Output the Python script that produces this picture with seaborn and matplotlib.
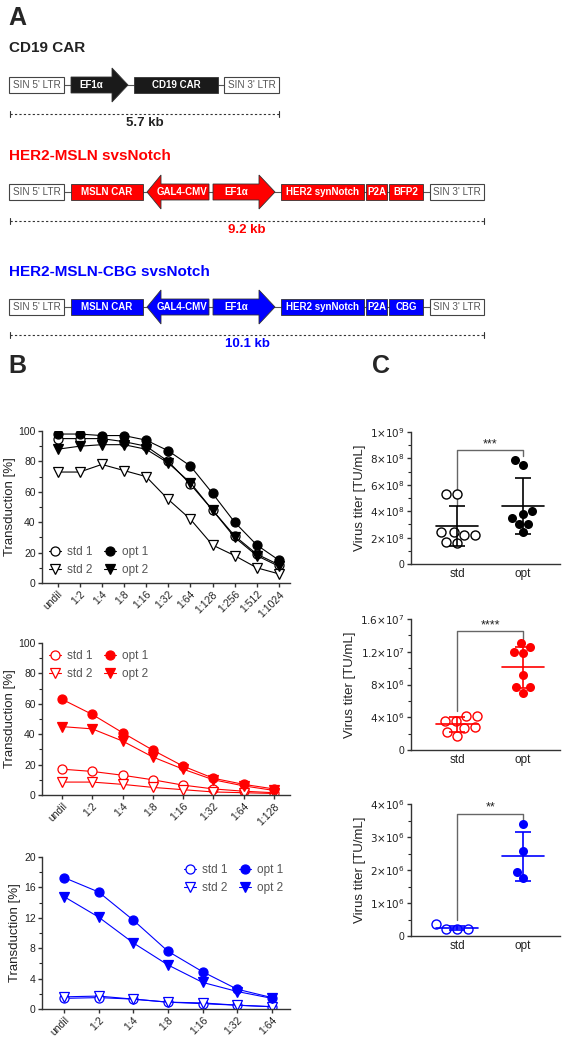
import matplotlib
matplotlib.use('Agg')
import matplotlib.pyplot as plt
import seaborn as sns
import numpy as np
import pandas as pd
from matplotlib.patches import Polygon, Rectangle
from matplotlib.ticker import FixedLocator, FixedFormatter, AutoMinorLocator

# ---------------- data ----------------
dil_top = ['undil', '1:2', '1:4', '1:8', '1:16', '1:32', '1:64', '1:128', '1:256', '1:512', '1:1024']
top_std1 = [95, 95, 95, 93, 90, 80, 65, 48, 31, 19, 12]
top_std2 = [73, 73, 78, 74, 70, 55, 42, 25, 18, 10, 6]
top_opt1 = [98, 98, 97, 97, 94, 87, 77, 59, 40, 25, 15]
top_opt2 = [88, 90, 91, 91, 88, 79, 66, 48, 30, 18, 11]

dil_mid = ['undil', '1:2', '1:4', '1:8', '1:16', '1:32', '1:64', '1:128']
mid_std1 = [17, 15.5, 13, 10, 6.5, 4, 2.5, 1.5]
mid_std2 = [8.5, 8.5, 7, 5, 3.5, 2, 1.5, 1]
mid_opt1 = [63, 53, 41, 29.5, 19, 11, 7, 4]
mid_opt2 = [45, 43.5, 35.5, 25, 17, 10, 6, 3]

dil_bot = ['undil', '1:2', '1:4', '1:8', '1:16', '1:32', '1:64']
bot_std1 = [1.4, 1.5, 1.3, 0.9, 0.7, 0.5, 0.3]
bot_std2 = [1.6, 1.7, 1.3, 0.9, 0.8, 0.5, 0.3]
bot_opt1 = [17.3, 15.4, 11.7, 7.6, 4.9, 2.6, 1.5]
bot_opt2 = [14.8, 12.1, 8.7, 5.8, 3.5, 2.3, 1.4]

titer_top_std = [5.3e8, 5.3e8, 2.2e8, 2.4e8, 1.6e8, 2.2e8, 1.7e8, 2.4e8]
titer_top_opt = [7.9e8, 7.5e8, 3.8e8, 4.0e8, 3.0e8, 3.5e8, 2.4e8, 3.0e8]
titer_mid_std = [4.2e6, 2.7e6, 3.6e6, 3.6e6, 1.7e6, 2.2e6, 4.2e6, 2.8e6]
titer_mid_opt = [12.6e6, 13.1e6, 11.8e6, 12.0e6, 9.1e6, 7.7e6, 7.0e6, 7.7e6]
titer_bot_std = [0.22e6, 0.35e6, 0.2e6, 0.22e6]
titer_bot_opt = [3.38e6, 2.58e6, 1.95e6, 1.75e6]

BLACK, RED, BLUE = '#000000', '#ff0000', '#0000ff'

# construct elements: (label, x0, x1, kind)  kind: box / ltr / right / left
construct_cd19 = [('SIN 5\' LTR', 9, 64, 'ltr'), ('EF1α', 71, 128, 'right'),
                  ('CD19 CAR', 134, 218, 'box'), ('SIN 3\' LTR', 224, 279, 'ltr')]
construct_svs = [('SIN 5\' LTR', 9, 64, 'ltr'), ('MSLN CAR', 71, 143, 'box'),
                 ('GAL4-CMV', 147, 209, 'left'), ('EF1α', 213, 275, 'right'),
                 ('HER2 synNotch', 281, 364, 'box'), ('P2A', 366, 387, 'box'),
                 ('BFP2', 389, 423, 'box'), ('SIN 3\' LTR', 430, 484, 'ltr')]
construct_cbg = [(l if l != 'BFP2' else 'CBG', a, b, k) for l, a, b, k in construct_svs]

# ---------------- figure ----------------
sns.set_style('ticks')
plt.rcParams['font.family'] = ['Liberation Sans', 'DejaVu Sans']
W, H = 567, 1050
fig = plt.figure(figsize=(W / 100, H / 100), dpi=100)


def px_axes(left, top, right, bottom):
    return fig.add_axes([left / W, 1 - bottom / H, (right - left) / W, (bottom - top) / H])


# ---------------- panel A ----------------
axa = fig.add_axes([0, 0, 1, 1])
axa.set_xlim(0, W)
axa.set_ylim(H, 0)
axa.axis('off')


def draw_construct(elems, yc, color):
    axa.plot([elems[0][1], elems[-1][2]], [yc, yc], color='#555555', lw=0.8, zorder=1)
    for label, x0, x1, kind in elems:
        if kind == 'ltr':
            axa.add_patch(Rectangle((x0, yc - 8), x1 - x0, 16, fc='white', ec='#444444', lw=0.8, zorder=2))
            axa.text((x0 + x1) / 2, yc, label, color='#555555', fontsize=7.2, ha='center', va='center', zorder=3)
            continue
        if kind == 'box':
            axa.add_patch(Rectangle((x0, yc - 8), x1 - x0, 16, fc=color, ec='#333333', lw=0.6, zorder=2))
            xt = (x0 + x1) / 2
        elif kind == 'right':
            xh = x1 - 16
            pts = [(x0, yc - 8), (xh, yc - 8), (xh, yc - 17), (x1, yc), (xh, yc + 17), (xh, yc + 8), (x0, yc + 8)]
            axa.add_patch(Polygon(pts, fc=color, ec='#333333', lw=0.6, zorder=2))
            xt = (x0 + xh) / 2
        else:
            xh = x0 + 14
            pts = [(x1, yc - 8), (xh, yc - 8), (xh, yc - 17), (x0, yc), (xh, yc + 17), (xh, yc + 8), (x1, yc + 8)]
            axa.add_patch(Polygon(pts, fc=color, ec='#333333', lw=0.6, zorder=2))
            xt = (x0 + 8 + x1) / 2
        axa.text(xt, yc, label, color='white', fontsize=7, fontweight='bold', ha='center', va='center', zorder=3)


def draw_scale(x0, x1, y, label, color):
    axa.plot([x0, x1], [y, y], ls=(0, (2, 2)), color='#333333', lw=0.8)
    axa.plot([x0, x0], [y - 3, y + 3], color='#333333', lw=0.8)
    axa.plot([x1, x1], [y - 3, y + 3], color='#333333', lw=0.8)
    axa.text((x0 + x1) / 2, y + 3, label, color=color, fontsize=9.5, fontweight='bold', ha='center', va='top')


axa.text(8, 18, 'A', fontsize=18, fontweight='bold', va='center')
axa.text(9, 48, 'CD19 CAR', fontsize=11, fontweight='bold', color='#222222', va='center')
draw_construct(construct_cd19, 85, '#1a1a1a')
draw_scale(10, 279, 114, '5.7 kb', '#222222')
axa.text(9, 156, 'HER2-MSLN svsNotch', fontsize=11, fontweight='bold', color=RED, va='center')
draw_construct(construct_svs, 192, RED)
draw_scale(10, 484, 221, '9.2 kb', RED)
axa.text(9, 272, 'HER2-MSLN-CBG svsNotch', fontsize=11, fontweight='bold', color=BLUE, va='center')
draw_construct(construct_cbg, 307, BLUE)
draw_scale(10, 484, 335, '10.1 kb', BLUE)
axa.text(8, 366, 'B', fontsize=18, fontweight='bold', va='center')
axa.text(372, 366, 'C', fontsize=18, fontweight='bold', va='center')


# ---------------- panel B ----------------
def style_axis(ax):
    sns.despine(ax=ax)
    for s in ['left', 'bottom']:
        ax.spines[s].set_linewidth(1.0)
        ax.spines[s].set_color('#333333')
    ax.tick_params(length=3, width=1, labelsize=7.5, pad=1.5, colors='#333333', labelcolor='#222222')
    ax.tick_params(axis='y', which='minor', length=2, width=0.8)


def line_panel(ax, cats, s1, s2, o1, o2, color, ymax, step, legend_loc, xpad):
    x = np.arange(len(cats))
    series = [('std 1', s1, 'o', 'white'), ('std 2', s2, 'v', 'white'),
              ('opt 1', o1, 'o', color), ('opt 2', o2, 'v', color)]
    for name, vals, m, fc in series:
        sns.lineplot(x=x, y=vals, ax=ax, color=color, lw=0.8, marker=m, markersize=6.5,
                     markerfacecolor=fc, markeredgecolor=color, markeredgewidth=0.9, label=name)
    ax.set_xlim(-xpad[0], len(cats) - 1 + xpad[1])
    ax.set_ylim(0, ymax)
    ax.set_yticks(np.arange(0, ymax + 0.1, step))
    ax.yaxis.set_minor_locator(AutoMinorLocator(2))
    ax.set_xticks(x)
    ax.set_xticklabels(cats, rotation=45, ha='right', rotation_mode='anchor')
    ax.set_ylabel('Transduction [%]', fontsize=9.5, color='#222222', labelpad=2)
    ax.set_xlabel('')
    style_axis(ax)
    ax.legend(ncol=2, frameon=False, loc=legend_loc,
              fontsize=8.5, labelcolor='#555555', handlelength=1.0, columnspacing=1.0, handletextpad=0.5,
              borderaxespad=0.2)


ax1 = px_axes(42, 431, 290, 583)
line_panel(ax1, dil_top, top_std1, top_std2, top_opt1, top_opt2, BLACK, 100, 20, 'lower left', (0.7, 0.5))
ax2 = px_axes(42, 643, 290, 795)
line_panel(ax2, dil_mid, mid_std1, mid_std2, mid_opt1, mid_opt2, RED, 100, 20, 'upper left', (0.66, 0.53))
ax3 = px_axes(42, 857, 290, 1009)
line_panel(ax3, dil_bot, bot_std1, bot_std2, bot_opt1, bot_opt2, BLUE, 20, 4, 'upper right', (0.63, 0.52))


# ---------------- panel C ----------------
def titer_panel(ax, std, opt, color, ymax, ticks, labels, stars, bracket_y, left_leg, right_leg):
    df = pd.DataFrame({'group': ['std'] * len(std) + ['opt'] * len(opt), 'titer': std + opt})
    sns.swarmplot(data=df[df.group == 'std'], x='group', y='titer', order=['std', 'opt'], ax=ax,
                  size=6.5, color='white', edgecolor=color, linewidth=1.0)
    sns.swarmplot(data=df[df.group == 'opt'], x='group', y='titer', order=['std', 'opt'], ax=ax,
                  size=6.5, color=color, edgecolor=color, linewidth=0)
    for i, vals in enumerate([std, opt]):
        m, sd = np.mean(vals), np.std(vals, ddof=1)
        ax.plot([i - 0.32, i + 0.32], [m, m], color=color, lw=1.2, zorder=5)
        ax.errorbar(i, m, yerr=sd, color=color, lw=1.2, capsize=6, capthick=1.2, zorder=5)
    ax.plot([0, 0, 1, 1], [left_leg, bracket_y, bracket_y, right_leg], color='#666666', lw=1.0)
    ax.text(0.5, bracket_y, stars, ha='center', va='bottom', fontsize=9, color='#222222')
    ax.set_xlim(-0.7, 1.56)
    ax.set_ylim(0, ymax)
    ax.yaxis.set_major_locator(FixedLocator(ticks))
    ax.yaxis.set_major_formatter(FixedFormatter(labels))
    ax.yaxis.set_minor_locator(AutoMinorLocator(2))
    ax.set_ylabel('Virus titer [TU/mL]', fontsize=9.5, color='#222222', labelpad=3)
    ax.set_xlabel('')
    style_axis(ax)
    ax.tick_params(axis='x', length=0, labelsize=8.5, pad=3)


axc1 = px_axes(411, 432, 560, 564)
titer_panel(axc1, titer_top_std, titer_top_opt, BLACK, 1e9,
            [0, 2e8, 4e8, 6e8, 8e8, 1e9],
            ['0', r'$2{\times}10^8$', r'$4{\times}10^8$', r'$6{\times}10^8$', r'$8{\times}10^8$', r'$1{\times}10^9$'],
            '***', 8.6e8, 4.5e8, 8.2e8)
axc2 = px_axes(411, 619, 560, 750)
titer_panel(axc2, titer_mid_std, titer_mid_opt, RED, 1.6e7,
            [0, 4e6, 8e6, 1.2e7, 1.6e7],
            ['0', r'$4{\times}10^6$', r'$8{\times}10^6$', r'$1.2{\times}10^7$', r'$1.6{\times}10^7$'],
            '****', 1.45e7, 4.8e6, 1.35e7)
axc3 = px_axes(411, 804, 560, 936)
titer_panel(axc3, titer_bot_std, titer_bot_opt, BLUE, 4e6,
            [0, 1e6, 2e6, 3e6, 4e6],
            ['0', r'$1{\times}10^6$', r'$2{\times}10^6$', r'$3{\times}10^6$', r'$4{\times}10^6$'],
            '**', 3.7e6, 0.5e6, 3.5e6)

fig.savefig('out.png', dpi=100)
